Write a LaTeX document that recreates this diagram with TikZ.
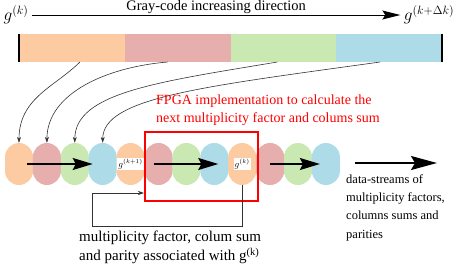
\documentclass[tikz,border=0pt]{standalone}
\usepackage{fontspec}
\setmainfont{Liberation Serif}
\usetikzlibrary{arrows.meta}

\definecolor{segorange}{RGB}{252,203,162}
\definecolor{segred}{RGB}{231,174,174}
\definecolor{seggreen}{RGB}{201,232,178}
\definecolor{segblue}{RGB}{173,220,232}

\begin{document}
\begin{tikzpicture}[x=1pt, y=-1pt, >=Stealth]
    \useasboundingbox (0,0) rectangle (457,265);
    \tikzset{
        seg/.style={minimum width=105.75pt, minimum height=28pt, inner sep=0pt, outer sep=0pt},
        pill/.style={rectangle, rounded corners=14pt, minimum width=28pt, minimum height=42pt, inner sep=0pt},
        flow/.style={-{Stealth[length=20pt,width=12pt,inset=3pt]}, line width=1.5pt},
        feed/.style={-{Stealth[length=6pt,width=4pt]}, line width=0.6pt, black!80},
        tag/.style={fill=white, inner sep=1pt, font=\fontsize{9}{10}\selectfont},
    }
    % gray-code bar
    \foreach \c [count=\i] in {segorange,segred,seggreen,segblue}
        \node[seg, fill=\c] (s\i) at ({19+105.75*(\i-0.5)},48) {};
    \draw[line width=1.5pt] (s1.north west) -- (s1.south west);
    \draw[line width=1.5pt] (s4.north east) -- (s4.south east);
    % direction arrow
    \node[font=\fontsize{17}{18}\selectfont] (gk) at (16,15) {$g^{(k)}$};
    \node[font=\fontsize{17}{18}\selectfont] (gkd) at (429,15) {$g^{(k+\Delta k)}$};
    \draw[-{Stealth[length=18pt,width=9pt,inset=3pt]}, line width=1pt] (gk.east) -- (gkd.west)
        node[midway, above=0.5pt, inner sep=0.5pt, font=\fontsize{14.5}{16}\selectfont] (dir) {Gray-code increasing direction};
    % stream of pills
    \foreach \c [count=\i] in {segorange,segred,seggreen,segblue,segorange,segred,seggreen,segblue,segorange,segred,seggreen,segblue}
        \node[pill, fill=\c] (o\i) at ({19+27.9*(\i-1)},164) {};
    \node[tag] (tk1) at (o5) {$g^{(k+1)}$};
    \node[tag] (tk) at (o9) {$g^{(k)}$};
    % from the bar to the stream
    \draw[feed] ([xshift=8pt]s1.south) .. controls +(-25,25) and +(0,-45) .. (o1.north);
    \draw[feed] ([xshift=-10pt]s2.south) .. controls +(-60,5) and +(0,-50) .. (o2.north);
    \draw[feed] ([xshift=-6pt]s3.south) .. controls +(-120,20) and +(0,-50) .. (o3.north);
    \draw[feed] ([xshift=-9pt]s4.south) .. controls +(-180,25) and +(0,-45) .. (o4.north);
    % flow arrows
    \draw[flow] ([xshift=8pt]o1.center) -- ([xshift=-10pt]o4.center);
    \draw[flow] ([xshift=-5pt]o6.center) -- ([xshift=4pt]o8.center);
    \draw[flow] (o10.center) -- ([xshift=-6pt]o12.center);
    \draw[-{Stealth[length=26pt,width=14pt,inset=4pt]}, line width=2pt] (355,163) -- (437,163);
    % FPGA box
    \node[draw=red, line width=2pt, minimum width=113pt, minimum height=69pt] (fpga) at (201.5,166.5) {};
    \node[red, align=left, anchor=west, inner sep=0pt, font=\fontsize{14}{18}\selectfont] (fpgatxt) at (156,110)
        {FPGA implementation to calculate the\\next multiplicity factor and colums sum};
    % feedback loop
    \coordinate (fb) at (92,226);
    \coordinate (fbin) at (92,193);
    \draw[feed] (o9.south) -- (o9.south |- fb) -- (fb) -- (fbin) -- (fpga.west |- fbin);
    \node[align=left, anchor=west, inner sep=0pt, font=\fontsize{15}{19}\selectfont] (fbtxt) at (79,247.5)
        {multiplicity factor, colum sum\\and parity associated with g\textsuperscript{(k)}};
    % output
    \node[align=left, anchor=west, inner sep=0pt, font=\fontsize{12.5}{18.3}\selectfont] (outtxt) at (346,207.5)
        {data-streams of\\multiplicity factors,\\columns sums and\\parities};
\end{tikzpicture}
\end{document}
